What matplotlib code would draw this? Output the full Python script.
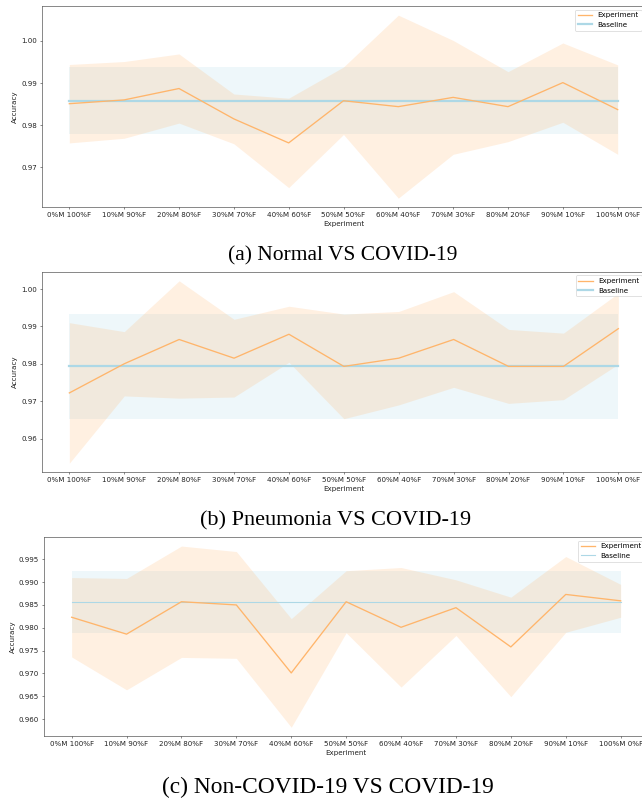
import matplotlib
matplotlib.use("Agg")
import matplotlib.pyplot as plt
import numpy as np

# ---------------- data ----------------
labels = ['0%M 100%F', '10%M 90%F', '20%M 80%F', '30%M 70%F', '40%M 60%F',
          '50%M 50%F', '60%M 40%F', '70%M 30%F', '80%M 20%F', '90%M 10%F',
          '100%M 0%F']

exp_mean_a = [0.9851, 0.9860, 0.9887, 0.9815, 0.9758, 0.9858, 0.9844, 0.9866, 0.9844, 0.9901, 0.9837]
exp_std_a = [0.0093, 0.0091, 0.0082, 0.0059, 0.0106, 0.0080, 0.0217, 0.0135, 0.0083, 0.0094, 0.0106]
base_mean_a = 0.9858
base_std_a = 0.0080

exp_mean_b = [0.9722, 0.9800, 0.9865, 0.9815, 0.9879, 0.9793, 0.9815, 0.9865, 0.9793, 0.9793, 0.9894]
exp_std_b = [0.0188, 0.0086, 0.0157, 0.0104, 0.0075, 0.0140, 0.0125, 0.0128, 0.0099, 0.0089, 0.0095]
base_mean_b = 0.9793
base_std_b = 0.0140

exp_mean_c = [0.9823, 0.9786, 0.9857, 0.9850, 0.9701, 0.9857, 0.9801, 0.9844, 0.9758, 0.9873, 0.9859]
exp_std_c = [0.0087, 0.0122, 0.0122, 0.0117, 0.0119, 0.0068, 0.0131, 0.0061, 0.0109, 0.0083, 0.0036]
base_mean_c = 0.9857
base_std_c = 0.0068

captions = ['(a) Normal VS COVID-19', '(b) Pneumonia VS COVID-19',
            '(c) Non-COVID-19 VS COVID-19']

# ---------------- style ----------------
S = 0.51
plt.rcParams.update({
    'font.family': ['DejaVu Sans'],
    'font.size': 10 * S,
    'axes.linewidth': 0.8 * S,
    'axes.edgecolor': '#333333',
    'axes.labelpad': 4 * S,
    'xtick.major.size': 3.5 * S,
    'ytick.major.size': 3.5 * S,
    'xtick.major.width': 0.8 * S,
    'ytick.major.width': 0.8 * S,
    'xtick.major.pad': 3.5 * S,
    'ytick.major.pad': 3.5 * S,
    'xtick.color': '#333333',
    'ytick.color': '#333333',
    'xtick.labelcolor': '#222222',
    'ytick.labelcolor': '#222222',
    'axes.labelcolor': '#222222',
    'patch.linewidth': 1.0 * S,
})

exp_color = '#ffb56b'
base_color = '#add8e6'

W, H = 642, 799
fig = plt.figure(figsize=(W / 100, H / 100), dpi=100)

# axes boxes in pixels: left, top, right, bottom
boxes = [(41.9, 6.0, 645.1, 207.3),
         (41.9, 271.7, 645.8, 472.3),
         (44.2, 537.0, 648.1, 736.3)]
caption_xy = [(343, 256), (336, 521), (328, 787)]
caption_size = [15.5, 16.0, 16.8]
base_lw = [1.6, 1.6, 0.8]

panels = [(exp_mean_a, exp_std_a, base_mean_a, base_std_a),
          (exp_mean_b, exp_std_b, base_mean_b, base_std_b),
          (exp_mean_c, exp_std_c, base_mean_c, base_std_c)]

x = np.arange(len(labels))
for i, ((em, es, bm, bs), (l, t, r, b)) in enumerate(zip(panels, boxes)):
    ax = fig.add_axes([l / W, 1 - b / H, (r - l) / W, (b - t) / H])
    em = np.array(em)
    es = np.array(es)
    bmv = np.full(len(x), bm)
    ax.plot(x, em, color=exp_color, lw=0.95, label='Experiment', zorder=4)
    ax.fill_between(x, em - es, em + es, color=exp_color, alpha=0.2, lw=0, zorder=2)
    ax.plot(x, bmv, color=base_color, lw=base_lw[i], label='Baseline', zorder=3)
    ax.fill_between(x, bmv - bs, bmv + bs, color=base_color, alpha=0.2, lw=0, zorder=1)
    ax.set_xticks(x)
    ax.set_xticklabels(labels)
    ax.set_xlabel('Experiment')
    ax.set_ylabel('Accuracy')
    ax.spines['right'].set_visible(False)
    ax.legend(loc='upper right')
    cx, cy = caption_xy[i]
    fig.text(cx / W, 1 - cy / H, captions[i], ha='center', va='center',
             family='Liberation Serif', fontsize=caption_size[i])

fig.savefig('out.png', dpi=100)
